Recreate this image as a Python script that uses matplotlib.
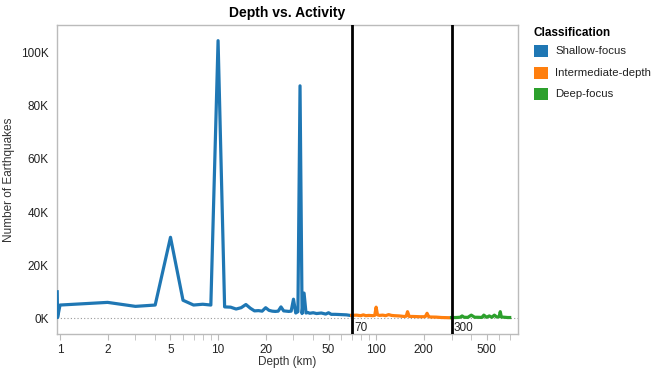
import matplotlib.pyplot as plt
from matplotlib.patches import Rectangle
from matplotlib.ticker import FixedLocator, FuncFormatter, NullFormatter

plt.rcParams['font.family'] = ['Liberation Sans', 'DejaVu Sans']

# depth (km) -> number of earthquakes
shallow_depth = [0.96, 0.965, 1, 2, 3, 4, 5, 6, 7, 8, 9, 10, 11, 12, 13, 14, 15, 16, 17,
                 18, 19, 20, 21, 22, 23, 24, 25, 26, 27, 28, 29, 30, 31, 32, 33, 34, 35,
                 36, 37, 38, 40, 42, 45, 48, 50, 52, 55, 60, 65, 70]
shallow_count = [10000, 300, 5000, 6000, 4500, 5000, 30500, 6800, 5000, 5300, 5000, 104500,
                 4300, 4200, 3500, 4000, 5200, 3800, 2800, 2900, 2700, 4000, 3000, 2700,
                 2600, 2700, 4300, 2800, 2700, 2600, 2700, 7200, 2000, 2500, 87500, 1800,
                 9500, 2000, 2200, 1900, 2100, 1800, 2000, 1600, 2100, 1500, 1500, 1400,
                 1300, 1000]

inter_depth = [70, 75, 80, 83, 86, 90, 95, 98, 100, 102, 105, 110, 115, 120, 125, 130, 140,
               150, 155, 158, 162, 170, 180, 190, 200, 205, 210, 215, 220, 240, 260, 280, 300]
inter_count = [1100, 1200, 1000, 1300, 1000, 1100, 1000, 1100, 4200, 1300, 1100, 1200, 1000,
               1400, 1100, 1000, 900, 700, 800, 2500, 700, 700, 650, 600, 600, 700, 1900,
               650, 500, 450, 300, 250, 200]

deep_depth = [300, 320, 340, 350, 360, 380, 400, 420, 440, 460, 470, 480, 500, 520, 540,
              560, 580, 600, 610, 620, 650, 680, 700]
deep_count = [300, 300, 400, 900, 400, 350, 1200, 400, 400, 350, 400, 1200, 400, 900, 400,
              1200, 500, 600, 2500, 500, 400, 300, 300]

boundaries = [70, 300]
classes = ['Shallow-focus', 'Intermediate-depth', 'Deep-focus']
colors = ['#1f77b4', '#ff7f0e', '#2ca02c']

W, H = 670, 374
fig = plt.figure(figsize=(6.7, 3.74), dpi=100)
ax = fig.add_axes([57/W, 40/H, 461/W, 309/H])

ax.axhline(0, color='#999999', lw=0.8, ls=(0, (1, 2)), zorder=1)
ax.plot(shallow_depth, shallow_count, color=colors[0], lw=2.3, solid_joinstyle='round', zorder=3)
ax.plot(inter_depth, inter_count, color=colors[1], lw=2.3, solid_joinstyle='round', zorder=3)
ax.plot(deep_depth, deep_count, color=colors[2], lw=2.3, solid_joinstyle='round', zorder=3)

for b in boundaries:
    ax.axvline(b, color='black', lw=2, zorder=4)
    ax.text(b * 1.035, -1500, str(b), fontsize=8.5, va='top', ha='left', color='#222222')

ax.set_xscale('log')
ax.set_xlim(0.957, 790)
ax.set_ylim(-5900, 110400)

ax.xaxis.set_major_locator(FixedLocator([1, 2, 5, 10, 20, 50, 100, 200, 500]))
ax.xaxis.set_major_formatter(FuncFormatter(lambda v, p: f'{v:g}'))
ax.xaxis.set_minor_locator(FixedLocator([3, 4, 6, 7, 8, 9, 30, 40, 60, 70, 80, 90,
                                         300, 400, 600, 700]))
ax.xaxis.set_minor_formatter(NullFormatter())
ax.set_yticks(range(0, 100001, 20000))
ax.yaxis.set_major_formatter(FuncFormatter(lambda v, p: f'{int(v/1000)}K'))

ax.tick_params(axis='x', which='major', length=4, color='#bbbbbb', labelsize=8.5,
               labelcolor='#222222', pad=3)
ax.tick_params(axis='x', which='minor', length=4, color='#bbbbbb')
ax.tick_params(axis='y', length=0, labelsize=8.5, labelcolor='#222222', pad=6)
for s in ax.spines.values():
    s.set_color('#bbbbbb')
    s.set_linewidth(1)

fig.text(287/W, 1 - 362/H, 'Depth (km)', fontsize=8.5, color='#333333',
         ha='center', va='center')
fig.text(9/W, 1 - 180/H, 'Number of Earthquakes', fontsize=8.5, color='#333333',
         ha='center', va='center', rotation=90)
ax.set_title('Depth vs. Activity', fontsize=10, fontweight='bold', pad=6)

# legend drawn by hand to match the spacing
fig.text(533/W, 1 - 33/H, 'Classification', fontsize=8.5, fontweight='bold',
         ha='left', va='center')
for i, (name, c) in enumerate(zip(classes, colors)):
    yc = 51 + i * 21.5
    fig.patches.append(Rectangle((534/W, 1 - (yc + 6)/H), 14/W, 12/H, facecolor=c,
                                 edgecolor='none', transform=fig.transFigure, figure=fig))
    fig.text(555/W, 1 - yc/H, name, fontsize=8.2, color='#222222', ha='left', va='center')

fig.savefig('out.png', dpi=100)
